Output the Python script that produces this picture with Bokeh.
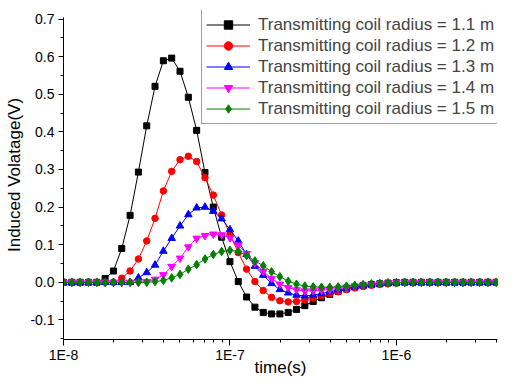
import numpy as np
from bokeh.plotting import figure
from bokeh.models import (Range1d, FixedTicker, NumeralTickFormatter, CustomJSTickFormatter,
                          Legend, LegendItem)
from bokeh.embed import file_html
from bokeh.resources import INLINE

# time grid (20 samples per decade, 1E-8 s .. ~4E-6 s)
time_s = np.logspace(-8, -5.4, 53)

radius_labels = ["Transmitting coil radius = 1.1 m", "Transmitting coil radius = 1.2 m",
                 "Transmitting coil radius = 1.3 m", "Transmitting coil radius = 1.4 m",
                 "Transmitting coil radius = 1.5 m"]

v_r11 = [0, 0, 0, 0, 0,
         0.01, 0.03, 0.09, 0.178, 0.293, 0.416, 0.521, 0.589, 0.596, 0.561, 0.492, 0.404,
         0.292, 0.200, 0.12, 0.055, 0.002, -0.039, -0.066, -0.080, -0.084, -0.084, -0.080,
         -0.072, -0.062, -0.051, -0.041, -0.032, -0.024, -0.018, -0.013, -0.009, -0.006,
         -0.004, -0.002, -0.001,
         0, 0, 0, 0, 0, 0, 0, 0, 0, 0, 0, 0]
v_r12 = [0, 0, 0, 0, 0, 0, 0,
         0.011, 0.03, 0.062, 0.11, 0.17, 0.243, 0.295, 0.326, 0.335, 0.321, 0.278, 0.232,
         0.179, 0.127, 0.079, 0.035, 0.002, -0.022, -0.04, -0.049, -0.052, -0.051, -0.047,
         -0.042, -0.036, -0.030, -0.025, -0.019, -0.015, -0.011, -0.008, -0.005, -0.003,
         -0.002, -0.001,
         0, 0, 0, 0, 0, 0, 0, 0, 0, 0, 0]
v_r13 = [0, 0, 0, 0, 0, 0, 0, 0, 0,
         0.012, 0.026, 0.046, 0.083, 0.117, 0.15, 0.18, 0.198, 0.2, 0.189, 0.169, 0.14,
         0.11, 0.074, 0.043, 0.019, -0.003, -0.019, -0.028, -0.034, -0.036, -0.034, -0.03,
         -0.025, -0.02, -0.016, -0.012, -0.009, -0.006, -0.004, -0.002, -0.001,
         0, 0, 0, 0, 0, 0, 0, 0, 0, 0, 0, 0]
v_r14 = [0, 0, 0, 0, 0, 0, 0, 0, 0, 0,
         0.002, 0.008, 0.02, 0.042, 0.064, 0.094, 0.117, 0.124, 0.128, 0.126, 0.118, 0.099,
         0.076, 0.052, 0.029, 0.01, -0.005, -0.014, -0.02, -0.023, -0.023, -0.021, -0.019,
         -0.016, -0.013, -0.01, -0.008, -0.006, -0.004, -0.002, -0.001,
         0, 0, 0, 0, 0, 0, 0, 0, 0, 0, 0, 0]
v_r15 = [0, 0, 0, 0, 0, 0, 0, 0, 0, 0, 0,
         0.002, 0.005, 0.012, 0.021, 0.035, 0.047, 0.062, 0.074, 0.082, 0.085, 0.082, 0.071,
         0.057, 0.044, 0.028, 0.015, 0.003, -0.005, -0.01, -0.012, -0.013, -0.013, -0.012,
         -0.01, -0.008, -0.006, -0.004, -0.003, -0.002, -0.001,
         0, 0, 0, 0, 0, 0, 0, 0, 0, 0, 0, 0]

series = [v_r11, v_r12, v_r13, v_r14, v_r15]
colors = ["#000000", "#FF0000", "#0000FF", "#FF00FF", "#008000"]
markers = ["square", "circle", "triangle", "inverted_triangle", "diamond"]
msizes = [6, 6.5, 7.5, 7.5, 8.5]

x_major = [1e-8, 1e-7, 1e-6]
x_minor = [m * d for d in (1e-8, 1e-7, 1e-6) for m in range(2, 10) if m * d <= 4.01e-6]
y_major = [-0.1, 0.0, 0.1, 0.2, 0.3, 0.4, 0.5, 0.6, 0.7]
y_minor = [-0.15, -0.05, 0.05, 0.15, 0.25, 0.35, 0.45, 0.55, 0.65]

FONT = "Liberation Sans"

p = figure(width=515, height=388, x_axis_type="log",
           x_range=Range1d(1e-8, 4.05e-6), y_range=Range1d(-0.152, 0.7226),
           output_backend="svg", toolbar_location=None,
           min_border_left=63, min_border_right=18, min_border_top=10, min_border_bottom=49)
p.outline_line_color = None
p.xgrid.visible = False
p.ygrid.visible = False
p.background_fill_color = "white"
p.border_fill_color = "white"

items = []
for vals, c, m, s, lab in zip(series, colors, markers, msizes, radius_labels):
    r1 = p.line(time_s, vals, line_color=c, line_width=1)
    r2 = p.scatter(time_s, vals, marker=m, size=s, fill_color=c, line_color=c)
    items.append(LegendItem(label=lab, renderers=[r1, r2]))

legend = Legend(items=items, location=(138, 215), margin=0, padding=4,
                glyph_width=44, glyph_height=21, label_height=21, spacing=0,
                label_standoff=8, label_text_font=FONT, label_text_font_size="17px",
                border_line_color="#444444", border_line_width=1.5,
                background_fill_color="white", background_fill_alpha=1.0)
p.add_layout(legend)

xa = p.xaxis[0]
xa.ticker = FixedTicker(ticks=x_major, minor_ticks=x_minor)
xa.formatter = CustomJSTickFormatter(code="return '1E' + Math.round(Math.log10(tick));")
xa.axis_label = "time(s)"
xa.major_tick_out = 6
xa.major_tick_in = 0
xa.minor_tick_out = 3
xa.minor_tick_in = 0
xa.major_label_standoff = 1
xa.axis_label_standoff = -8

ya = p.yaxis[0]
ya.ticker = FixedTicker(ticks=y_major, minor_ticks=y_minor)
ya.formatter = NumeralTickFormatter(format="0.0")
ya.axis_label = "Induced Volatage(V)"
ya.bounds = (-0.152, 0.705)
ya.major_tick_out = 5
ya.major_tick_in = 0
ya.minor_tick_out = 3
ya.minor_tick_in = 0
ya.major_label_standoff = 4
ya.axis_label_standoff = 3

for ax in (xa, ya):
    ax.axis_line_color = "black"
    ax.major_tick_line_color = "black"
    ax.minor_tick_line_color = "black"
    ax.major_label_text_font = FONT
    ax.major_label_text_font_size = "14px"
    ax.major_label_text_color = "black"
    ax.axis_label_text_font = FONT
    ax.axis_label_text_font_size = "17px"
    ax.axis_label_text_font_style = "normal"
    ax.axis_label_text_color = "black"

open("out.html", "w").write(file_html(p, INLINE))
